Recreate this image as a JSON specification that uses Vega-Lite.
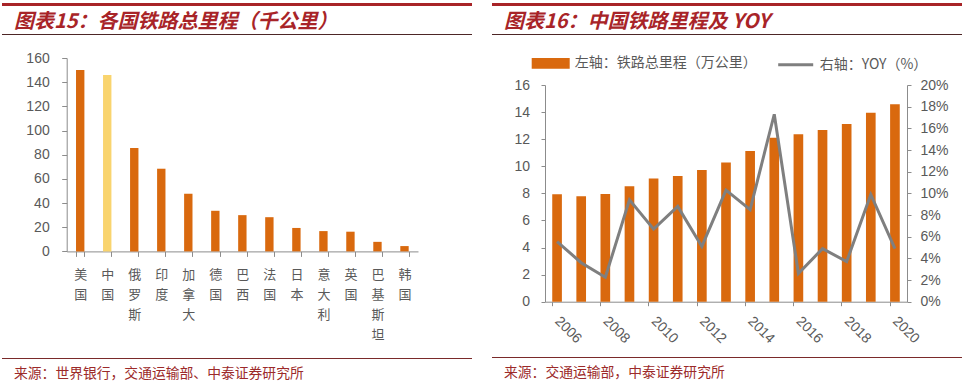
{
  "$schema": "https://vega.github.io/schema/vega-lite/v6.json",
  "padding": {"left": 2, "top": 3, "right": 0, "bottom": 0},
  "background": "white",
  "bounds": "full",
  "spacing": 20,
  "config": {
    "view": {"stroke": null},
    "axis": {
      "grid": false,
      "domainColor": "#8c8c8c",
      "tickColor": "#8c8c8c",
      "labelColor": "#595959",
      "labelFont": "Liberation Sans",
      "labelFontSize": 14
    }
  },
  "hconcat": [
    {
      "bounds": "flush",
      "spacing": 0,
      "vconcat": [
        {"width": 470, "height": 3, "view": {"fill": "#a82428", "stroke": null}, "data": {"values": []}, "mark": "point"},
        {"width": 470, "height": 28, "data": {"values": []}, "mark": "point"},
        {
          "width": 470, "height": 1, "view": {"fill": "#4d2626", "stroke": null}, "data": {"values": []}, "mark": "point",
          "title": {"text": "图表15：各国铁路总里程（千公里）", "orient": "top", "anchor": "start", "frame": "group", "offset": 2, "dx": 12, "font": "Noto Sans CJK SC", "fontSize": 20, "fontStyle": "italic", "fontWeight": "bold", "color": "#a82428"}
        },
        {"width": 470, "height": 22.3, "data": {"values": []}, "mark": "point"},
        {
          "width": 470,
          "height": 193.4,
          "data": {"values": [
            {"country": "美国", "km": 150},
            {"country": "中国", "km": 146},
            {"country": "俄罗斯", "km": 85.5},
            {"country": "印度", "km": 68.4},
            {"country": "加拿大", "km": 47.7},
            {"country": "德国", "km": 33.6},
            {"country": "巴西", "km": 30},
            {"country": "法国", "km": 28.3},
            {"country": "日本", "km": 19.4},
            {"country": "意大利", "km": 16.8},
            {"country": "英国", "km": 16.3},
            {"country": "巴基斯坦", "km": 7.9},
            {"country": "韩国", "km": 4.4}
          ]},
          "mark": {"type": "bar"},
          "encoding": {
            "x": {
              "field": "country", "type": "nominal", "sort": null,
              "scale": {"range": [64.7, 416], "paddingInner": 0.69, "paddingOuter": 0.345},
              "axis": {"title": null, "tickBand": "extent", "tickSize": 5, "labelAngle": 0, "labelAlign": "center", "labelBaseline": "top", "labelExpr": "split(datum.label, '')", "labelLineHeight": 20, "labelPadding": 12, "labelFont": "Noto Sans CJK SC", "labelFontSize": 13, "labelOverlap": false}
            },
            "y": {
              "field": "km", "type": "quantitative",
              "scale": {"domain": [0, 160]},
              "axis": {"title": null, "offset": -64.7, "values": [0, 20, 40, 60, 80, 100, 120, 140, 160], "tickSize": 5, "labelPadding": 12.5}
            },
            "color": {"condition": {"test": "datum.country === '中国'", "value": "#f9d46e"}, "value": "#d9690e"}
          }
        },
        {"width": 470, "height": 105.3, "data": {"values": []}, "mark": "point"},
        {
          "width": 470, "height": 1, "view": {"fill": "#7a2a2a", "stroke": null}, "data": {"values": []}, "mark": "point",
          "title": {"text": "来源：世界银行，交通运输部、中泰证券研究所", "orient": "bottom", "anchor": "start", "frame": "group", "offset": 8, "dx": 12, "font": "Noto Sans CJK SC", "fontSize": 13.8, "fontWeight": "normal", "color": "#9c2a2a"}
        }
      ]
    },
    {
      "bounds": "flush",
      "spacing": 0,
      "vconcat": [
        {"width": 470, "height": 3, "view": {"fill": "#a82428", "stroke": null}, "data": {"values": []}, "mark": "point"},
        {"width": 470, "height": 28, "data": {"values": []}, "mark": "point"},
        {
          "width": 470, "height": 1, "view": {"fill": "#4d2626", "stroke": null}, "data": {"values": []}, "mark": "point",
          "title": {"text": "图表16：中国铁路里程及 YOY", "orient": "top", "anchor": "start", "frame": "group", "offset": 2, "dx": 12, "font": "Noto Sans CJK SC", "fontSize": 20, "fontStyle": "italic", "fontWeight": "bold", "color": "#a82428"}
        },
        {"width": 470, "height": 50, "data": {"values": []}, "mark": "point"},
        {
          "width": 470,
          "height": 216.7,
          "data": {"values": [
            {"year": "2006", "km": 7.93, "yoy": 0.0555},
            {"year": "2007", "km": 7.78, "yoy": 0.036},
            {"year": "2008", "km": 7.95, "yoy": 0.0225},
            {"year": "2009", "km": 8.53, "yoy": 0.094},
            {"year": "2010", "km": 9.1, "yoy": 0.067},
            {"year": "2011", "km": 9.28, "yoy": 0.088},
            {"year": "2012", "km": 9.72, "yoy": 0.051},
            {"year": "2013", "km": 10.28, "yoy": 0.103},
            {"year": "2014", "km": 11.12, "yoy": 0.085},
            {"year": "2015", "km": 12.1, "yoy": 0.173},
            {"year": "2016", "km": 12.37, "yoy": 0.026},
            {"year": "2017", "km": 12.68, "yoy": 0.049},
            {"year": "2018", "km": 13.12, "yoy": 0.037},
            {"year": "2019", "km": 13.96, "yoy": 0.099},
            {"year": "2020", "km": 14.58, "yoy": 0.049}
          ]},
          "encoding": {
            "x": {
              "field": "year", "type": "ordinal",
              "scale": {"range": [53, 415], "paddingInner": 0.6, "paddingOuter": 0.3},
              "axis": {"title": null, "values": ["2006", "2008", "2010", "2012", "2014", "2016", "2018", "2020"], "bandPosition": 0, "labelOffset": 0, "labelAngle": 45, "labelAlign": "left", "labelBaseline": "middle", "labelPadding": 13, "tickSize": 4, "labelOverlap": false, "labelBound": false}
            }
          },
          "layer": [
            {
              "mark": {"type": "bar"},
              "encoding": {
                "y": {
                  "field": "km", "type": "quantitative",
                  "scale": {"domain": [0, 16]},
                  "axis": {"title": null, "offset": -53, "values": [0, 2, 4, 6, 8, 10, 12, 14, 16], "tickSize": 4, "labelPadding": 11.5}
                },
                "color": {
                  "datum": "左轴：铁路总里程（万公里）",
                  "scale": {"domain": ["左轴：铁路总里程（万公里）", "右轴：YOY（%）"], "range": ["#d9690e", "#7f7f7f"]},
                  "legend": {
                    "title": null, "orient": "none", "direction": "horizontal", "legendX": 529.7, "legendY": 41.2,
                    "padding": 0, "symbolSize": 1225, "labelOffset": 5, "columnPadding": 15,
                    "labelFont": "Noto Sans CJK SC", "labelFontSize": 14, "labelColor": "#595959", "labelLimit": 400,
                    "encode": {
                      "symbols": {
                        "update": {
                          "shape": {"signal": "datum.value === '右轴：YOY（%）' ? 'stroke' : 'M-1,-0.22H1V0.22H-1Z'"},
                          "fill": {"signal": "datum.value === '右轴：YOY（%）' ? 'transparent' : '#d9690e'"},
                          "stroke": {"signal": "datum.value === '右轴：YOY（%）' ? '#7f7f7f' : 'transparent'"},
                          "strokeWidth": {"value": 3},
                          "opacity": {"value": 1}
                        }
                      }
                    }
                  }
                }
              }
            },
            {
              "mark": {"type": "line", "strokeWidth": 3},
              "encoding": {
                "y": {
                  "field": "yoy", "type": "quantitative",
                  "scale": {"domain": [0, 0.2]},
                  "axis": {"title": null, "orient": "right", "offset": -55, "format": ".0%", "values": [0, 0.02, 0.04, 0.06, 0.08, 0.1, 0.12, 0.14, 0.16, 0.18, 0.2], "tickSize": 4, "labelPadding": 9}
                },
                "color": {"datum": "右轴：YOY（%）"}
              }
            }
          ],
          "resolve": {"scale": {"y": "independent"}}
        },
        {"width": 470, "height": 54.3, "data": {"values": []}, "mark": "point"},
        {
          "width": 470, "height": 1, "view": {"fill": "#7a2a2a", "stroke": null}, "data": {"values": []}, "mark": "point",
          "title": {"text": "来源：交通运输部，中泰证券研究所", "orient": "bottom", "anchor": "start", "frame": "group", "offset": 8, "dx": 12, "font": "Noto Sans CJK SC", "fontSize": 13.8, "fontWeight": "normal", "color": "#9c2a2a"}
        }
      ]
    }
  ]
}
